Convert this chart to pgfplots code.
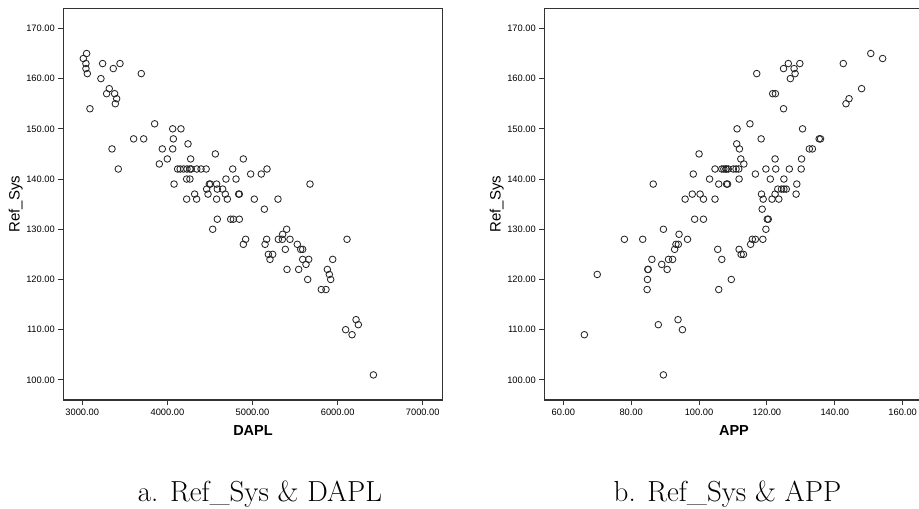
\documentclass[border=0pt]{standalone}
\usepackage{fontspec}
\usepackage{pgfplots}
\pgfplotsset{compat=1.18}
\newfontfamily\arial{Liberation Sans}
\pgfplotsset{
  myax/.style={
    scale only axis, width=379.4pt, height=391.7pt,
    ymin=96, ymax=174, ytick={100,110,...,170},
    axis line style={draw=black!80, line width=1.1pt},
    tick align=outside, xtick pos=left, ytick pos=left,
    major tick length=5pt,
    tick style={draw=black!80, line width=0.9pt},
    tick label style={font=\arial\fontsize{9.3}{11}\selectfont},
    scaled x ticks=false, scaled y ticks=false,
    /pgf/number format/fixed, /pgf/number format/fixed zerofill,
    /pgf/number format/precision=2, /pgf/number format/1000 sep={},
    /pgf/number format/assume math mode=true,
    ylabel={Ref\_Sys},
    ylabel style={font=\arial\fontsize{15}{17}\selectfont, at={(axis description cs:-0.125,0.5)}, anchor=center},
    xlabel style={font=\arial\bfseries\fontsize{14.5}{17}\selectfont, at={(axis description cs:0.5,-0.078)}, anchor=center},
  },
  pts/.style={only marks, mark=o, mark size=3.3pt, mark options={line width=0.85pt, draw=black!85}},
}
\pgfplotstableread{
x y
3012 164
3051 165
3043 163
3043 162
3059 161
3090 154
3219 160
3239 163
3364 162
3443 163
3317 158
3286 157
3380 157
3404 156
3388 155
3693 161
3349 146
3423 142
3603 148
3721 148
3850 151
4062 150
4159 150
4070 148
4062 146
4242 147
3940 146
3905 143
3999 144
4078 139
4273 144
4563 145
4120 142
4150 142
4190 142
4230 142
4265 142
4280 142
4345 142
4395 142
4455 142
4226 140
4265 140
4226 136
4343 136
4320 137
4461 138
4492 139
4505 139
4477 137
4578 139
4586 138
4649 138
4680 137
4688 140
4704 136
4578 136
4586 132
4532 130
4767 142
4806 140
4837 137
4845 137
4892 144
4978 141
5021 136
4743 132
4775 132
4845 132
4892 127
4919 128
5103 141
5170 142
5139 134
5299 136
5675 139
5166 128
5147 127
5186 125
5237 125
5205 124
5303 128
5350 128
5354 129
5401 130
5440 128
5385 126
5405 122
5526 127
5566 126
5589 126
5589 124
5628 123
5660 124
5542 122
5648 120
5808 118
5863 118
5879 122
5902 121
5918 120
5942 124
6110 128
6094 110
6169 109
6216 112
6243 111
6420 101
}\dapl
\pgfplotstableread{
x y
66.2 109
70.0 121
78.0 128
83.4 128
86.5 139
84.9 122
85.0 122
84.8 120
84.7 118
86.1 124
88.0 111
89.0 123
89.5 130
89.5 101
90.6 122
91.0 124
92.2 124
92.8 126
93.2 127
93.9 127
94.1 129
93.8 112
95.1 110
95.9 136
96.6 128
98.0 137
98.3 141
98.7 132
100.0 145
100.3 137
101.3 136
101.3 132
103.1 140
104.7 136
104.7 142
105.5 126
105.8 139
105.8 118
106.7 124
106.7 142
107.3 142
107.9 142
108.0 142
108.6 142
110.1 142
110.9 142
111.7 142
108.1 139
108.4 139
109.5 120
111.2 150
111.1 147
111.9 146
112.3 144
113.2 143
111.8 140
111.8 126
112.4 125
113.1 125
115.0 151
117.0 161
116.6 141
115.2 127
115.7 128
116.6 128
118.3 148
118.4 137
118.9 136
118.6 134
118.8 128
119.7 142
119.7 130
120.1 132
120.4 132
121.0 140
121.5 136
122.4 137
122.6 142
122.4 144
121.7 157
122.5 157
123.2 138
123.5 136
124.3 138
125.0 138
125.7 138
125.0 140
124.9 154
124.9 162
126.3 163
126.6 142
126.9 160
128.0 162
128.3 161
129.7 163
128.8 139
128.6 137
130.2 144
130.1 142
130.5 150
132.5 146
133.4 146
135.4 148
135.8 148
142.5 163
143.3 155
144.2 156
147.9 158
150.6 165
154.1 164
}\app
\begin{document}
\begin{tikzpicture}
\begin{axis}[myax, at={(63.3pt,109pt)}, anchor=south west,
  xmin=2777, xmax=7234, xtick={3000,4000,...,7000}, xlabel={DAPL}]
\addplot[pts] table[x=x,y=y] {\dapl};
\end{axis}
\begin{axis}[myax, at={(544.3pt,109pt)}, anchor=south west,
  xmin=54.4, xmax=166.2, xtick={60,80,...,160}, xlabel={APP}]
\addplot[pts] table[x=x,y=y] {\app};
\end{axis}
\node[anchor=base, inner sep=0pt, font=\fontsize{29}{34}\selectfont] at (260pt,7.5pt) {a. Ref\_Sys \& DAPL};
\node[anchor=base, inner sep=0pt, font=\fontsize{29}{34}\selectfont] at (727.5pt,7.5pt) {b. Ref\_Sys \& APP};
\pgfresetboundingbox
\path[use as bounding box] (0pt,0pt) rectangle (919pt,509pt);
\end{tikzpicture}
\end{document}
